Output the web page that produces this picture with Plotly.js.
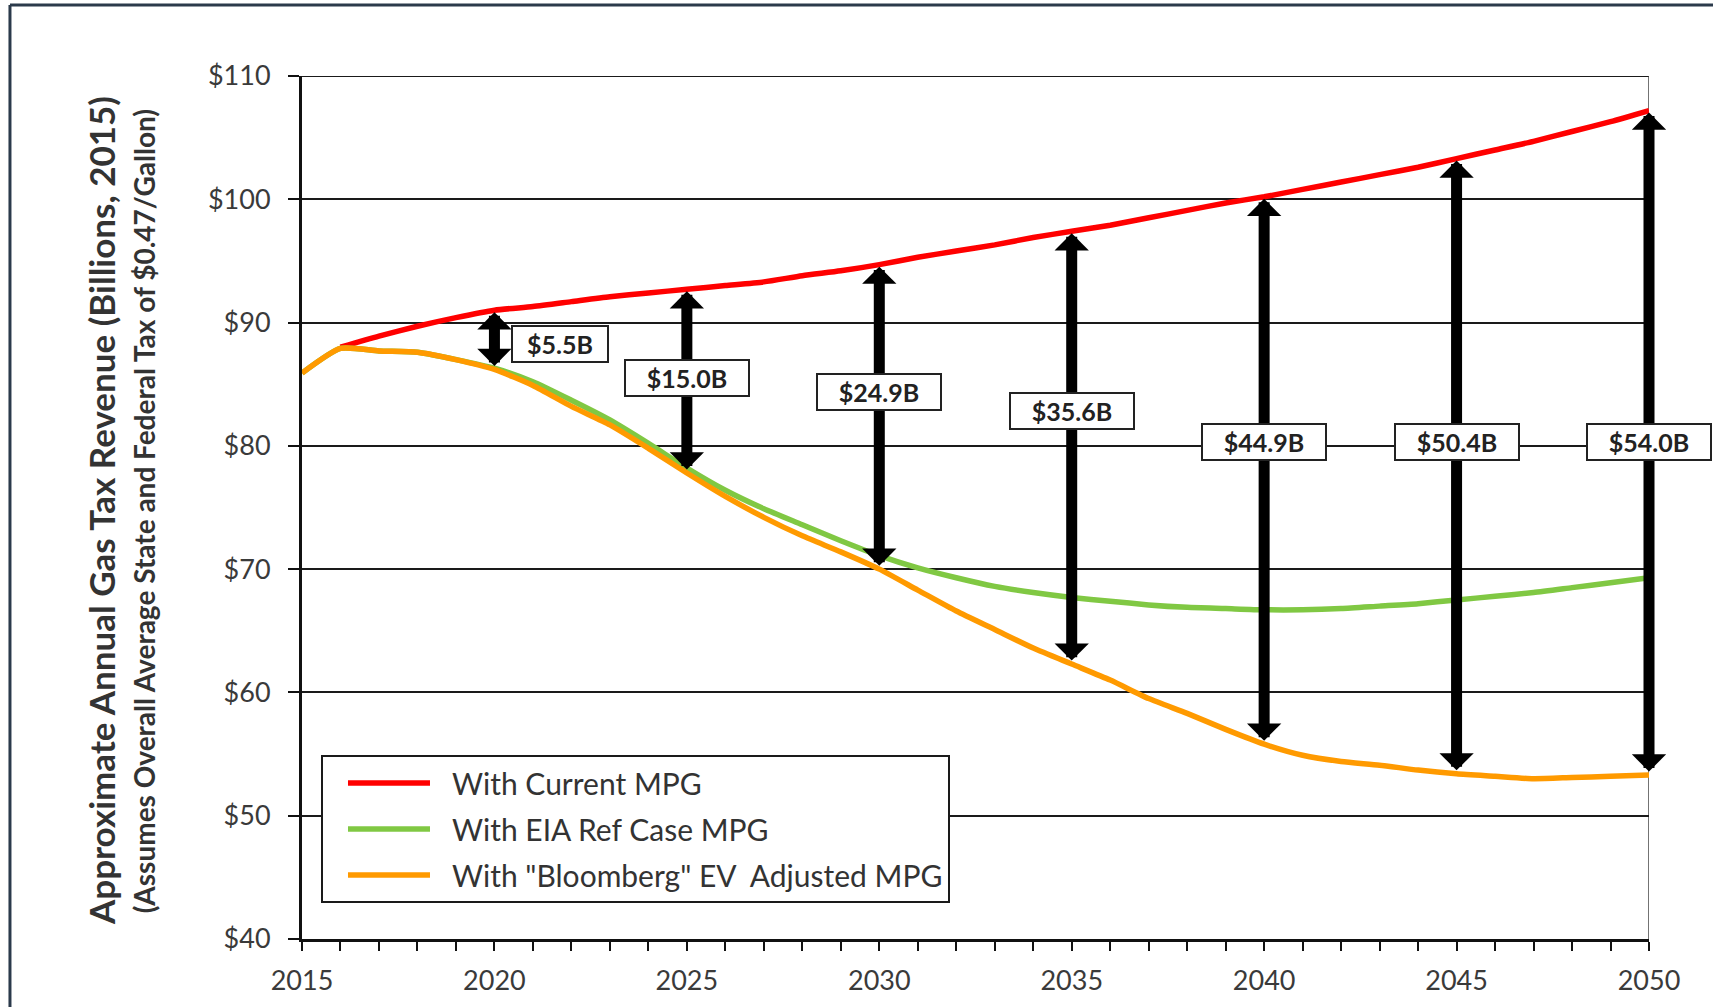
<!DOCTYPE html>
<html>
<head>
<meta charset="utf-8">
<script src="https://cdn.plot.ly/plotly-3.0.1.min.js"></script>
<style>
html,body{margin:0;padding:0;background:#ffffff;}
#chart{width:1713px;height:1007px;}
</style>
</head>
<body>
<div id="chart"></div>
<script>
// ---------------- data ----------------
const years = [2015,2016,2017,2018,2019,2020,2021,2022,2023,2024,2025,2026,2027,2028,2029,2030,
               2031,2032,2033,2034,2035,2036,2037,2038,2039,2040,2041,2042,2043,2044,2045,2046,
               2047,2048,2049,2050];

const currentMPG = [null,88.0,88.9,89.7,90.4,91.0,91.3,91.7,92.1,92.4,92.7,93.0,93.3,93.8,94.2,94.7,
                    95.3,95.8,96.3,96.9,97.4,97.9,98.5,99.1,99.7,100.2,100.8,101.4,102.0,102.6,103.3,104.0,
                    104.7,105.5,106.3,107.2];

const eiaRefMPG = [85.9,87.9,87.7,87.6,87.0,86.3,85.2,83.7,82.1,80.2,78.2,76.4,74.9,73.6,72.3,71.1,
                   70.1,69.3,68.6,68.1,67.7,67.4,67.1,66.9,66.8,66.7,66.7,66.8,67.0,67.2,67.5,67.8,
                   68.1,68.5,68.9,69.3];

const bloombergMPG = [85.9,87.9,87.7,87.6,87.0,86.2,84.9,83.2,81.7,79.8,77.8,75.9,74.2,72.7,71.4,70.0,
                      68.3,66.6,65.1,63.6,62.3,61.0,59.5,58.3,57.0,55.8,54.9,54.4,54.1,53.7,53.4,53.2,
                      53.0,53.1,53.2,53.3];

const seriesNames = ['With Current MPG', 'With EIA Ref Case MPG', 'With "Bloomberg" EV\u00a0 Adjusted MPG'];

const gapYears  = [2020, 2025, 2030, 2035, 2040, 2045, 2050];
const gapLabels = ['$5.5B', '$15.0B', '$24.9B', '$35.6B', '$44.9B', '$50.4B', '$54.0B'];

const yTitle    = 'Approximate Annual Gas Tax Revenue (Billions, 2015)';
const ySubtitle = '(Assumes Overall Average State and Federal Tax of $0.47/Gallon)';

// ---------------- label placement (layout, not data) ----------------
const labelX = [2021.7, 2025, 2030, 2035, 2040, 2045, 2050];
const labelY = [88.3, 85.5, 84.4, 82.8, 80.35, 80.35, 80.35];

// ---------------- styles ----------------
const FONT = 'Lato, "Open Sans", "DejaVu Sans", sans-serif';
const colors = ['#ff0000', '#80c843', '#ff9a00'];

const series = [currentMPG, eiaRefMPG, bloombergMPG];
const data = series.map((s, k) => ({
  type: 'scatter',
  mode: 'lines',
  x: years,
  y: s,
  name: seriesNames[k],
  legendgroup: 'g' + k,
  line: {color: colors[k], width: 5.5, shape: 'spline', smoothing: 0.6},
  connectgaps: false,
  hoverinfo: 'skip'
}));

const annotations = [];
// double headed arrows between the "Bloomberg" line and current MPG line
gapYears.forEach(yr => {
  const i = years.indexOf(yr);
  annotations.push({
    x: yr, y: currentMPG[i], ax: yr, ay: bloombergMPG[i],
    xref: 'x', yref: 'y', axref: 'x', ayref: 'y',
    text: '', showarrow: true,
    arrowside: 'end+start', arrowhead: 1, startarrowhead: 1,
    arrowsize: 0.52, startarrowsize: 0.52, arrowwidth: 11, arrowcolor: '#000000',
    standoff: 2, startstandoff: 2
  });
});
// value boxes
gapLabels.forEach((t, k) => {
  annotations.push({
    x: labelX[k], y: labelY[k], xref: 'x', yref: 'y',
    text: '<b>' + t + '</b>', showarrow: false,
    bgcolor: '#ffffff', bordercolor: '#222222', borderwidth: 2, borderpad: 2,
    width: k === 0 ? 90 : 118, height: 30,
    font: {family: FONT, size: 25, color: '#222222'},
    xanchor: 'center', yanchor: 'middle'
  });
});
// y axis titles
annotations.push({
  xref: 'paper', yref: 'paper', x: -0.1492, y: 0.496, textangle: -90,
  text: '<b>' + yTitle + '</b>', showarrow: false, xanchor: 'center', yanchor: 'middle',
  font: {family: FONT, size: 35, color: '#333333'}
});
annotations.push({
  xref: 'paper', yref: 'paper', x: -0.117, y: 0.496, textangle: -90,
  text: '<b>' + ySubtitle + '</b>', showarrow: false, xanchor: 'center', yanchor: 'middle',
  font: {family: FONT, size: 28, color: '#333333'}
});

const shapes = [
  // top border of plot at $110
  {type: 'line', xref: 'paper', yref: 'y', x0: 0, x1: 1, y0: 110, y1: 110, layer: 'below',
   line: {color: '#1a1a1a', width: 2}},
  // right border at 2050
  {type: 'line', xref: 'x', yref: 'paper', x0: 2050, x1: 2050, y0: 0, y1: 1, layer: 'below',
   line: {color: '#444444', width: 1.5}},
  // outer frame (left + top)
  {type: 'line', xref: 'paper', yref: 'paper', x0: -0.2168, x1: -0.2168, y0: -0.12, y1: 1.0823,
   line: {color: '#2b3a4b', width: 3}},
  {type: 'line', xref: 'paper', yref: 'paper', x0: -0.2168, x1: 1.1, y0: 1.0823, y1: 1.0823,
   line: {color: '#2b3a4b', width: 3}}
];

const layout = {
  width: 1713, height: 1007,
  margin: {l: 302, r: 64, t: 76, b: 68, pad: 0},
  paper_bgcolor: '#ffffff', plot_bgcolor: '#ffffff',
  font: {family: FONT, color: '#333333'},
  showlegend: true,
  legend: {
    x: 0.0141, y: 0.2132, xanchor: 'left', yanchor: 'top',
    bgcolor: '#ffffff', bordercolor: '#1a1a1a', borderwidth: 2,
    font: {family: FONT, size: 30, color: '#333333'},
    traceorder: 'grouped', tracegroupgap: 4, itemwidth: 119
  },
  xaxis: {
    range: [2015, 2050], tick0: 2015, dtick: 5,
    showgrid: false, zeroline: false,
    showline: true, linecolor: '#111111', linewidth: 3,
    ticks: 'outside', ticklen: 9, tickwidth: 2, tickcolor: '#111111',
    minor: {dtick: 1, ticks: 'outside', ticklen: 9, tickwidth: 2, tickcolor: '#111111', showgrid: false},
    tickfont: {family: FONT, size: 27, color: '#3a3a3a'},
    ticklabelstandoff: 7
  },
  yaxis: {
    range: [40, 110], tick0: 40, dtick: 10, tickprefix: '$',
    showgrid: true, gridcolor: '#1a1a1a', gridwidth: 2, zeroline: false,
    showline: true, linecolor: '#111111', linewidth: 3,
    ticks: 'outside', ticklen: 11, tickwidth: 2, tickcolor: '#111111',
    tickfont: {family: FONT, size: 27, color: '#3a3a3a'},
    ticklabelstandoff: 12
  },
  shapes: shapes,
  annotations: annotations
};

Plotly.newPlot('chart', data, layout, {displayModeBar: false, staticPlot: true}).then(gd => {
  gd.querySelectorAll('.legend .legendlines path').forEach(p => p.setAttribute('d', 'M25,0h82'));
});
</script>
</body>
</html>
